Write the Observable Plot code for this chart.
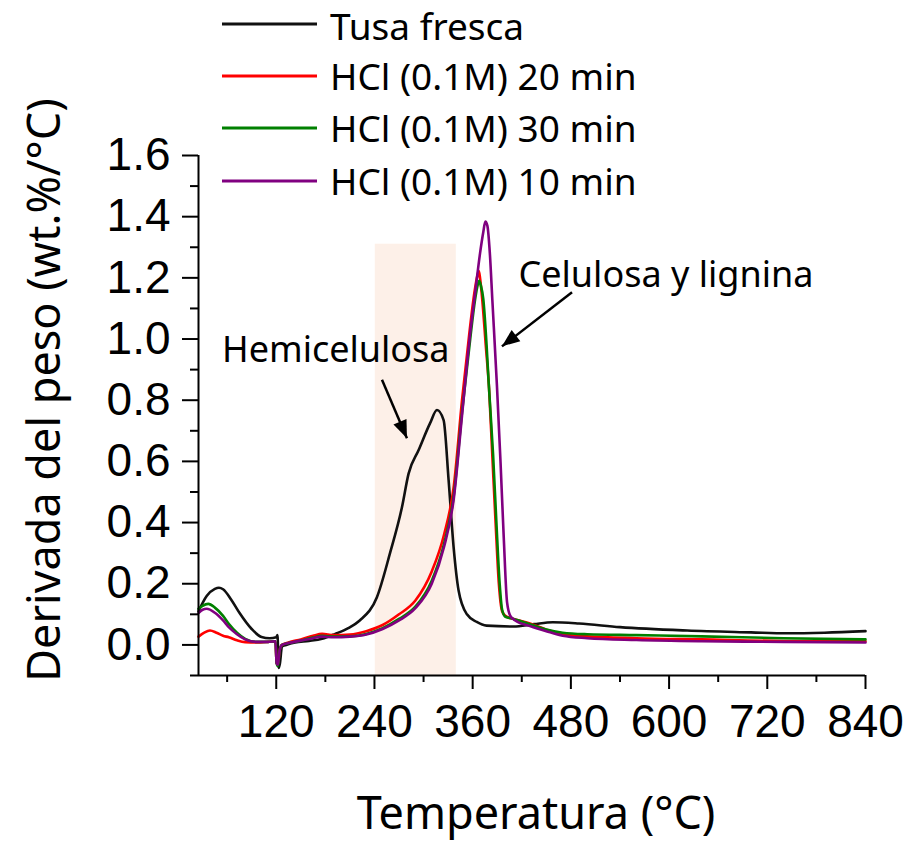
<!DOCTYPE html>
<html><head><meta charset="utf-8">
<script src="https://cdn.jsdelivr.net/npm/d3@7"></script>
<script src="https://cdn.jsdelivr.net/npm/@observablehq/plot@0.6"></script>
<style>
body{margin:0;background:#fff;}
#wrap{position:relative;width:909px;height:843px;overflow:hidden;}
#wrap svg{position:absolute;left:0;top:0;}
</style></head><body><div id="wrap"></div>
<script>
// ---------- data ----------
const seriesNames = ["Tusa fresca", "HCl (0.1M) 20 min", "HCl (0.1M) 30 min", "HCl (0.1M) 10 min"];
const seriesColors = ["#111111", "#ff0000", "#008000", "#800080"];

const tempFresca = [25, 35, 45, 50, 55, 65, 75, 90, 102, 112, 120, 121.5, 123, 124.5, 127, 132, 143, 160, 176, 192, 208, 222, 243, 259, 273.6, 281.7, 294, 308, 316.4, 324.5, 330.6, 336.7, 342.8, 353, 365, 377, 410, 435, 458, 490, 540, 622, 700, 744, 790, 840];
const valFresca  = [0.11, 0.16, 0.183, 0.187, 0.182, 0.148, 0.105, 0.052, 0.026, 0.022, 0.025, 0.032, -0.075, -0.06, -0.005, 0.0, 0.008, 0.013, 0.02, 0.036, 0.055, 0.08, 0.156, 0.30, 0.45, 0.56, 0.637, 0.725, 0.768, 0.735, 0.539, 0.32, 0.178, 0.10, 0.075, 0.063, 0.06, 0.068, 0.074, 0.07, 0.058, 0.047, 0.041, 0.038, 0.04, 0.045];

const temp20 = [25, 32, 39, 47, 55, 62, 72, 82, 95, 110, 119, 120.5, 122, 124, 127, 135, 150, 165, 176, 190, 210, 230, 250, 270, 290, 310, 325, 337, 347, 356, 362, 366, 367.5, 369, 372, 376, 380, 384, 388, 392, 396, 400, 410, 430, 450, 470, 500, 560, 640, 740, 840];
const val20  = [0.027, 0.04, 0.047, 0.04, 0.03, 0.025, 0.015, 0.009, 0.008, 0.01, 0.012, -0.06, -0.065, -0.02, 0.0, 0.008, 0.018, 0.03, 0.036, 0.032, 0.034, 0.045, 0.065, 0.1, 0.145, 0.24, 0.36, 0.52, 0.8, 1.02, 1.15, 1.21, 1.222, 1.2, 1.12, 0.98, 0.84, 0.62, 0.4, 0.2, 0.11, 0.095, 0.085, 0.07, 0.05, 0.035, 0.028, 0.022, 0.018, 0.013, 0.012];

const temp30 = [25, 30, 37, 45, 55, 62, 72, 82, 95, 110, 119, 120.5, 122, 124, 127, 135, 150, 165, 176, 190, 210, 230, 250, 270, 290, 310, 325, 337, 347, 357, 363, 366.5, 368, 370, 373, 377, 379.5, 385, 389, 393, 396, 400, 410, 430, 450, 470, 500, 560, 640, 740, 840];
const val30  = [0.118, 0.128, 0.134, 0.122, 0.095, 0.069, 0.04, 0.02, 0.01, 0.01, 0.012, -0.06, -0.07, -0.02, 0.0, 0.006, 0.014, 0.024, 0.03, 0.027, 0.028, 0.036, 0.055, 0.085, 0.125, 0.21, 0.33, 0.49, 0.76, 1.0, 1.13, 1.18, 1.19, 1.175, 1.13, 0.98, 0.86, 0.62, 0.4, 0.2, 0.115, 0.092, 0.085, 0.068, 0.05, 0.04, 0.035, 0.032, 0.028, 0.022, 0.018];

const temp10 = [25, 30, 35, 45, 55, 62, 72, 82, 95, 110, 119, 120.5, 122, 124, 127, 135, 150, 165, 176, 190, 210, 230, 250, 270, 290, 310, 325, 337, 347, 357, 363, 369, 373, 375.5, 378, 381, 384, 389.7, 394, 398, 402, 406, 412, 430, 450, 470, 500, 560, 640, 740, 840];
const val10  = [0.104, 0.115, 0.118, 0.105, 0.08, 0.058, 0.035, 0.018, 0.01, 0.01, 0.012, -0.06, -0.065, -0.02, 0.0, 0.006, 0.014, 0.022, 0.027, 0.025, 0.027, 0.034, 0.052, 0.08, 0.12, 0.2, 0.32, 0.48, 0.75, 1.02, 1.15, 1.28, 1.35, 1.384, 1.37, 1.28, 1.13, 0.845, 0.6, 0.35, 0.14, 0.095, 0.08, 0.062, 0.045, 0.03, 0.022, 0.016, 0.012, 0.01, 0.008];

const xMajorTicks = [120, 240, 360, 480, 600, 720, 840];
const xMinorTicks = [60, 180, 300, 420, 540, 660, 780];
const yMajorTicks = [0, 0.2, 0.4, 0.6, 0.8, 1.0, 1.2, 1.4, 1.6];
const yMinorTicks = [-0.1, 0.1, 0.3, 0.5, 0.7, 0.9, 1.1, 1.3, 1.5];
const xDomain = [25, 840];
const yDomain = [-0.1, 1.6];

const hemiBand = [{x1: 241, x2: 340, y1: -0.1, y2: 1.31}];
const annotationLabels = [
  {text: "Hemicelulosa", x: 53.7, y: 0.963},
  {text: "Celulosa y lignina", x: 416, y: 1.209}
];
const annotationArrows = [
  {x1: 249.2, y1: 0.867, x2: 279.7, y2: 0.676},
  {x1: 481.4, y1: 1.153, x2: 395.8, y2: 0.976}
];

// ---------- build table ----------
const allTemps = [tempFresca, temp20, temp30, temp10];
const allVals = [valFresca, val20, val30, val10];
const rows = [];
allTemps.forEach((ts, i) => ts.forEach((t, j) => rows.push({series: seriesNames[i], temp: t, value: allVals[i][j]})));

const arrowHead = {
  draw(ctx, size) {
    const L = Math.sqrt(size);
    ctx.moveTo(0, 0);
    ctx.lineTo(-0.4 * L, L);
    ctx.lineTo(0.4 * L, L);
    ctx.closePath();
  }
};

function build(extra) {
  return Plot.plot({
    width: 909, height: 843,
    marginTop: 155, marginLeft: 198, marginRight: 44, marginBottom: 168,
    style: {fontFamily: "Liberation Sans", fontSize: "46px", color: "#000", background: "transparent", overflow: "visible"},
    x: {domain: xDomain},
    y: {domain: yDomain},
    color: {domain: seriesNames, range: seriesColors},
    marks: [
      Plot.rect(hemiBand, {x1: "x1", x2: "x2", y1: "y1", y2: "y2", fill: "#fdf0e8"}),
      ...seriesNames.map((name, i) => Plot.line(rows.filter(d => d.series === name), {x: "temp", y: "value", stroke: seriesColors[i], strokeWidth: 2.6, curve: "monotone-x"})),
      Plot.ruleX([xDomain[0]], {stroke: "#000", strokeWidth: 2}),
      Plot.ruleY([yDomain[0]], {stroke: "#000", strokeWidth: 2}),
      Plot.axisX({ticks: xMajorTicks, tickSize: 14, tickPadding: 15, tickFormat: d => String(d), label: null, fontSize: 46, strokeWidth: 2}),
      Plot.axisX({ticks: xMinorTicks, tickSize: 7, tickFormat: () => "", label: null, strokeWidth: 2}),
      Plot.axisY({ticks: yMajorTicks, tickSize: 16, tickPadding: 12, tickFormat: d3.format(".1f"), label: null, fontSize: 46, strokeWidth: 2}),
      Plot.axisY({ticks: yMinorTicks, tickSize: 8, tickFormat: () => "", label: null, strokeWidth: 2}),
      Plot.text(annotationLabels, {x: "x", y: "y", text: "text", textAnchor: "start", lineAnchor: "middle", fontFamily: "Noto Sans", fontSize: 36, fill: "#000"}),
      Plot.link(annotationArrows, {x1: "x1", y1: "y1", x2: "x2", y2: "y2", stroke: "#000", strokeWidth: 2.5}),
      ...extra
    ]
  });
}

const probe = build([]);
const sx = probe.scale("x"), sy = probe.scale("y");
const heads = annotationArrows.map(a => {
  const dx = sx.apply(a.x2) - sx.apply(a.x1);
  const dy = sy.apply(a.y2) - sy.apply(a.y1);
  return {...a, angle: Math.atan2(dx, -dy) * 180 / Math.PI};
});
const chart = build([
  Plot.dot(heads, {x: "x2", y: "y2", symbol: arrowHead, r: 10, fill: "#000", stroke: "none", rotate: "angle"})
]);
const wrap = document.getElementById("wrap");
wrap.appendChild(chart);

// ---------- overlay: legend and axis titles ----------
const ov = d3.select(wrap).append("svg").attr("width", 909).attr("height", 843)
  .style("pointer-events", "none").style("overflow", "visible");
const legendY = [24, 76, 128, 181];
const legendBaseline = [40, 90, 142, 195];
seriesNames.forEach((name, i) => {
  ov.append("line").attr("x1", 222).attr("x2", 317).attr("y1", legendY[i]).attr("y2", legendY[i])
    .attr("stroke", seriesColors[i]).attr("stroke-width", 3);
  ov.append("text").attr("x", 330).attr("y", legendBaseline[i])
    .attr("font-family", "Noto Sans").attr("font-size", 37).attr("fill", "#000").text(name);
});
ov.append("text").attr("x", 536).attr("y", 829).attr("text-anchor", "middle")
  .attr("font-family", "Noto Sans").attr("font-size", 45).attr("fill", "#000").text("Temperatura (°C)");
ov.append("text").attr("transform", "translate(60,390) rotate(-90)").attr("text-anchor", "middle")
  .attr("font-family", "Noto Sans").attr("font-size", 45).attr("fill", "#000").text("Derivada del peso (wt.%/°C)");
</script>
</body></html>
